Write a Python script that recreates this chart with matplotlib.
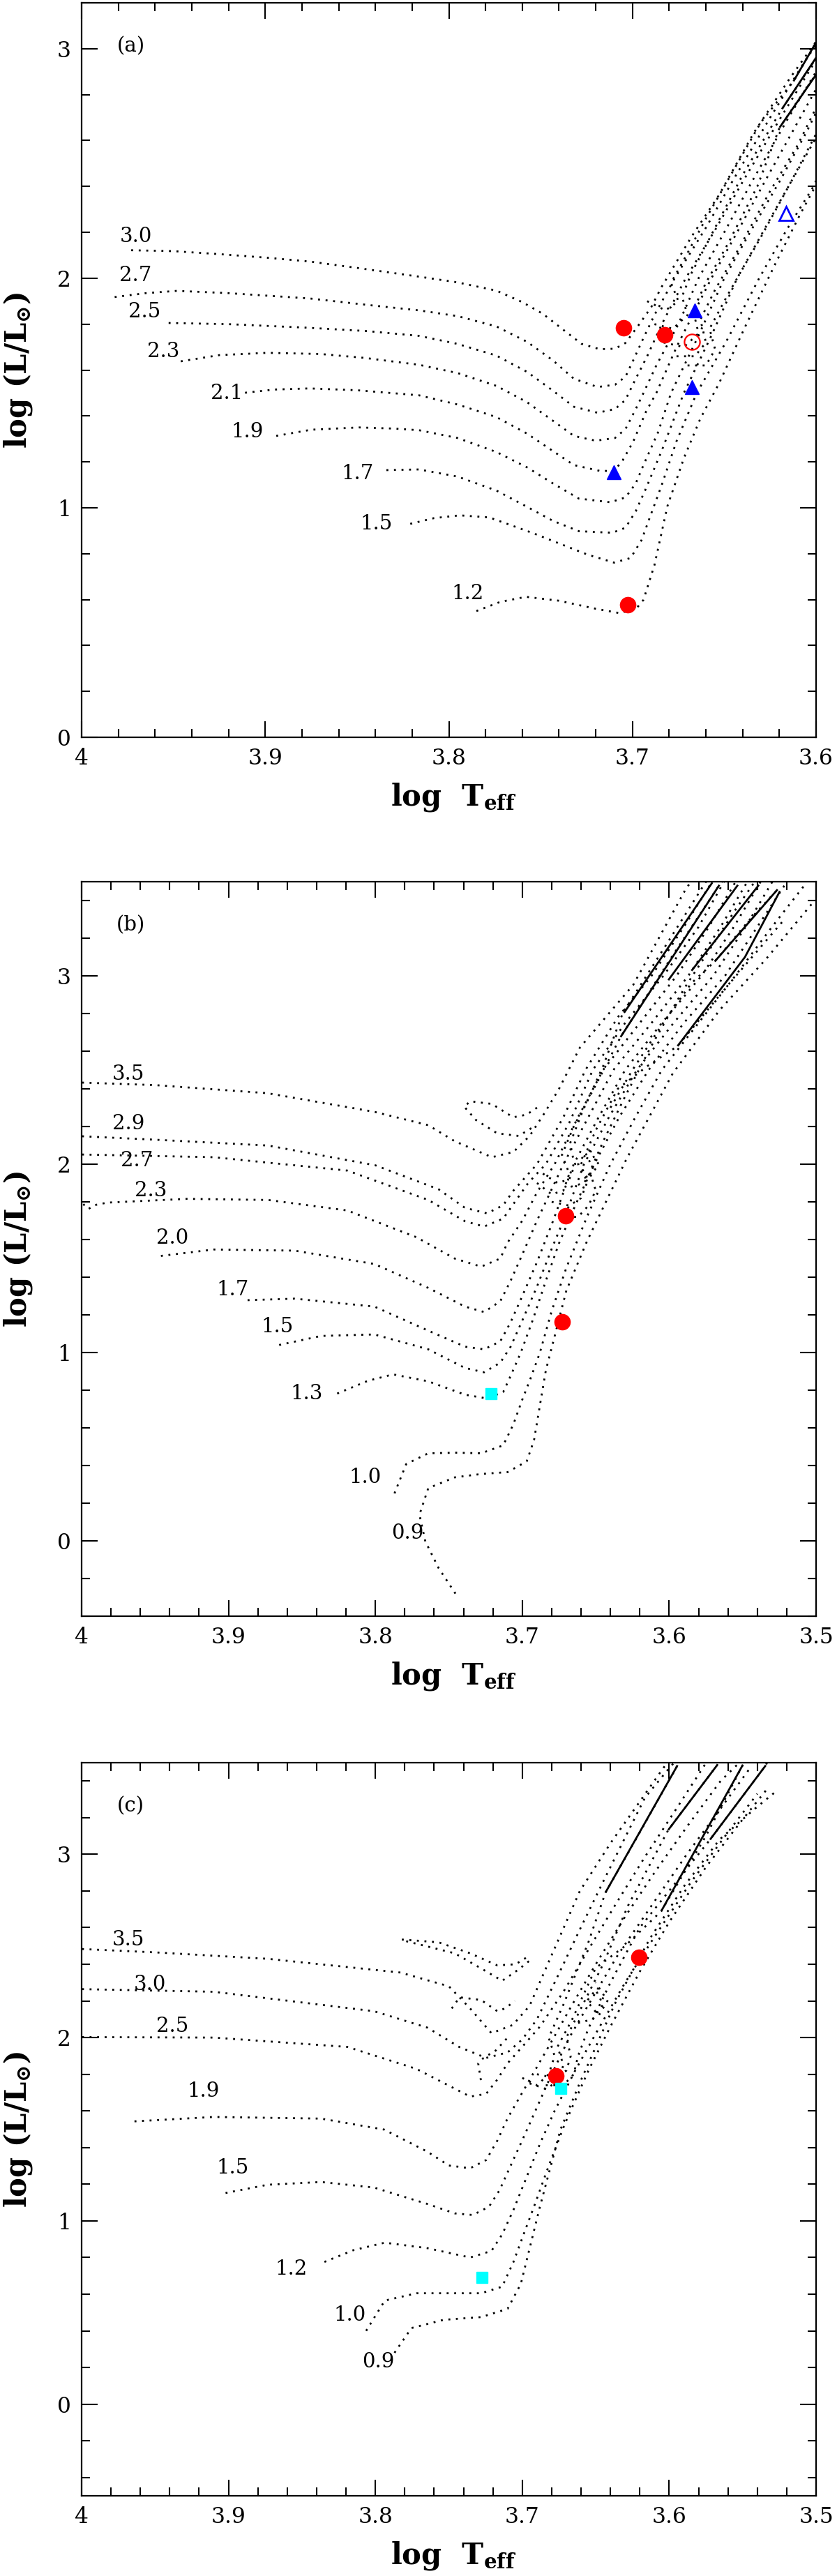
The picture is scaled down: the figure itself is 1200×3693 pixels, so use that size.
import matplotlib
matplotlib.use('Agg')
import matplotlib.pyplot as plt
from matplotlib.ticker import MultipleLocator, FuncFormatter

plt.rcParams['font.family'] = ['DejaVu Serif', 'DejaVu Sans']
plt.rcParams['mathtext.fontset'] = 'custom'
plt.rcParams['mathtext.rm'] = 'DejaVu Serif:bold'
plt.rcParams['mathtext.it'] = 'DejaVu Serif:bold'
plt.rcParams['mathtext.bf'] = 'DejaVu Serif:bold'

# ---------------- Panel (a) data: (log Teff, log L) ----------------
a30_T = [3.973, 3.950, 3.925, 3.900, 3.876, 3.850, 3.8163, 3.7953, 3.7741, 3.760, 3.7488, 3.7376, 3.7277, 3.7179, 3.7095, 3.7038, 3.6968, 3.6897, 3.6845, 3.668, 3.6529, 3.6338, 3.6137, 3.601, 3.594]
a30_L = [2.122, 2.118, 2.105, 2.090, 2.073, 2.045, 2.007, 1.982, 1.946, 1.896, 1.845, 1.775, 1.714, 1.691, 1.693, 1.718, 1.794, 1.875, 1.957, 2.179, 2.362, 2.635, 2.878, 3.020, 3.10]
a27_T = [3.982, 3.965, 3.948, 3.920, 3.876, 3.840, 3.8163, 3.7953, 3.7741, 3.7574, 3.7433, 3.7319, 3.719, 3.7095, 3.7038, 3.6996, 3.694, 3.688, 3.677, 3.660, 3.645, 3.625, 3.605, 3.594]
a27_L = [1.918, 1.935, 1.945, 1.935, 1.912, 1.880, 1.860, 1.835, 1.790, 1.723, 1.642, 1.562, 1.526, 1.536, 1.571, 1.642, 1.740, 1.840, 2.000, 2.220, 2.430, 2.700, 2.960, 3.080]
a25_T = [3.9526, 3.920, 3.876, 3.845, 3.8163, 3.7953, 3.7741, 3.7574, 3.7433, 3.7319, 3.719, 3.7095, 3.7038, 3.6989, 3.692, 3.684, 3.671, 3.655, 3.640, 3.620, 3.594]
a25_L = [1.805, 1.800, 1.784, 1.770, 1.749, 1.714, 1.663, 1.592, 1.510, 1.440, 1.414, 1.430, 1.470, 1.551, 1.660, 1.800, 2.000, 2.210, 2.420, 2.690, 3.030]
a23_T = [3.946, 3.925, 3.899, 3.870, 3.846, 3.8163, 3.7953, 3.7741, 3.7574, 3.7433, 3.7319, 3.720, 3.7095, 3.7038, 3.6982, 3.694, 3.687, 3.675, 3.664, 3.650, 3.635, 3.615, 3.594]
a23_L = [1.638, 1.665, 1.675, 1.670, 1.653, 1.623, 1.587, 1.531, 1.460, 1.379, 1.313, 1.292, 1.304, 1.343, 1.430, 1.500, 1.620, 1.800, 2.000, 2.200, 2.420, 2.700, 2.980]
a21_T = [3.911, 3.895, 3.876, 3.850, 3.8163, 3.7953, 3.7741, 3.7574, 3.7433, 3.7319, 3.718, 3.710, 3.7053, 3.6996, 3.6926, 3.687, 3.676, 3.657, 3.643, 3.628, 3.610, 3.594]
a21_L = [1.501, 1.515, 1.520, 1.512, 1.490, 1.450, 1.395, 1.323, 1.247, 1.186, 1.161, 1.160, 1.207, 1.288, 1.419, 1.500, 1.700, 2.000, 2.200, 2.420, 2.680, 2.910]
a19_T = [3.894, 3.875, 3.849, 3.830, 3.8163, 3.7953, 3.7741, 3.7574, 3.7433, 3.7292, 3.712, 3.7038, 3.6982, 3.694, 3.686, 3.679, 3.664, 3.650, 3.636, 3.620, 3.605, 3.594]
a19_L = [1.313, 1.340, 1.350, 1.345, 1.338, 1.304, 1.243, 1.176, 1.106, 1.040, 1.024, 1.045, 1.106, 1.186, 1.330, 1.500, 1.750, 2.000, 2.200, 2.420, 2.640, 2.820]
a17_T = [3.834, 3.8163, 3.7953, 3.7741, 3.7574, 3.7433, 3.7292, 3.711, 3.7038, 3.6982, 3.6926, 3.684, 3.672, 3.657, 3.643, 3.630, 3.615, 3.594]
a17_L = [1.164, 1.167, 1.136, 1.075, 1.004, 0.943, 0.898, 0.891, 0.913, 0.985, 1.085, 1.250, 1.500, 1.750, 2.000, 2.180, 2.400, 2.720]
a15_T = [3.821, 3.808, 3.794, 3.778, 3.754, 3.7245, 3.710, 3.701, 3.695, 3.690, 3.684, 3.676, 3.665, 3.649, 3.631, 3.6161, 3.602, 3.594]
a15_L = [0.930, 0.955, 0.967, 0.958, 0.889, 0.796, 0.761, 0.781, 0.860, 0.970, 1.100, 1.290, 1.500, 1.723, 2.000, 2.210, 2.392, 2.520]
a12_T = [3.785, 3.772, 3.758, 3.740, 3.720, 3.707, 3.698, 3.694, 3.688, 3.681, 3.672, 3.663, 3.6529, 3.6389, 3.626, 3.6212, 3.6085, 3.601, 3.594]
a12_L = [0.550, 0.590, 0.612, 0.595, 0.560, 0.541, 0.560, 0.599, 0.751, 1.006, 1.216, 1.389, 1.541, 1.784, 2.000, 2.079, 2.281, 2.392, 2.490]
a_masses = ['3.0', '2.7', '2.5', '2.3', '2.1', '1.9', '1.7', '1.5', '1.2']
a_label_T = [3.9705, 3.9705, 3.9658, 3.9555, 3.9208, 3.9099, 3.8496, 3.8395, 3.7897]
a_label_L = [2.182, 2.012, 1.854, 1.682, 1.499, 1.331, 1.149, 0.930, 0.627]
# clump / AGB loops
ea1_T = [3.688, 3.678, 3.670, 3.673, 3.668, 3.655, 3.640, 3.6186, 3.594]
ea1_L = [1.800, 1.780, 1.840, 1.920, 2.020, 2.220, 2.450, 2.737, 3.030]
ea2_T = [3.683, 3.672, 3.664, 3.667, 3.660, 3.648, 3.632, 3.6199, 3.594]
ea2_L = [1.720, 1.700, 1.760, 1.860, 1.980, 2.150, 2.400, 2.656, 2.960]
ea3_T = [3.692, 3.682, 3.675, 3.679, 3.672, 3.660, 3.645, 3.630, 3.6123, 3.594]
ea3_L = [1.900, 1.860, 1.900, 1.980, 2.080, 2.260, 2.470, 2.680, 2.858, 3.110]
ea4_T = [3.676, 3.666, 3.660, 3.663, 3.655, 3.642, 3.625, 3.610, 3.594]
ea4_L = [1.660, 1.660, 1.720, 1.820, 1.950, 2.130, 2.380, 2.580, 2.840]
ea5_T = [3.670, 3.660, 3.655, 3.658, 3.650, 3.636, 3.620, 3.603, 3.594]
ea5_L = [1.620, 1.620, 1.690, 1.780, 1.900, 2.100, 2.330, 2.570, 2.700]
sa_T = [[3.6123, 3.598], [3.6186, 3.598], [3.6199, 3.598]]
sa_L = [[2.858, 3.055], [2.737, 2.985], [2.656, 2.910]]
# markers
a_red_T = [3.705, 3.6826, 3.7027]
a_red_L = [1.784, 1.754, 0.578]
a_redopen_T = [3.6677]
a_redopen_L = [1.722]
a_blue_T = [3.6662, 3.6675, 3.710]
a_blue_L = [1.860, 1.526, 1.156]
a_blueopen_T = [3.6163]
a_blueopen_L = [2.281]

# ---------------- Panel (b) data ----------------
b35_T = [4.01, 3.95, 3.8735, 3.8007, 3.764, 3.746, 3.7207, 3.706, 3.695, 3.685, 3.675, 3.6608, 3.6244, 3.6054, 3.588, 3.578]
b35_L = [2.436, 2.420, 2.377, 2.278, 2.207, 2.122, 2.037, 2.065, 2.150, 2.270, 2.400, 2.619, 2.953, 3.224, 3.471, 3.560]
b29_T = [4.01, 3.95, 3.873, 3.800, 3.757, 3.739, 3.724, 3.713, 3.706, 3.698, 3.690, 3.672, 3.657, 3.635, 3.612, 3.590, 3.570]
b29_L = [2.152, 2.130, 2.099, 1.994, 1.867, 1.768, 1.739, 1.782, 1.860, 1.930, 2.000, 2.250, 2.500, 2.780, 3.000, 3.260, 3.510]
b27_T = [4.01, 3.91, 3.819, 3.764, 3.739, 3.726, 3.713, 3.705, 3.696, 3.684, 3.668, 3.652, 3.630, 3.604, 3.580, 3.562]
b27_L = [2.053, 2.037, 1.966, 1.810, 1.697, 1.669, 1.711, 1.800, 1.900, 2.000, 2.220, 2.500, 2.750, 3.000, 3.260, 3.510]
b23_T = [3.9989, 3.9953, 3.9916, 3.9825, 3.928, 3.873, 3.819, 3.772, 3.746, 3.728, 3.715, 3.710, 3.700, 3.690, 3.678, 3.662, 3.645, 3.620, 3.595, 3.573, 3.554]
b23_L = [1.788, 1.762, 1.782, 1.796, 1.816, 1.810, 1.754, 1.612, 1.499, 1.456, 1.499, 1.584, 1.700, 1.850, 2.000, 2.250, 2.500, 2.750, 3.000, 3.260, 3.510]
b20_T = [3.946, 3.91, 3.855, 3.8007, 3.764, 3.739, 3.726, 3.715, 3.708, 3.700, 3.690, 3.672, 3.655, 3.638, 3.612, 3.587, 3.565, 3.546]
b20_L = [1.513, 1.547, 1.541, 1.470, 1.343, 1.244, 1.215, 1.272, 1.380, 1.520, 1.700, 2.000, 2.250, 2.500, 2.750, 3.000, 3.260, 3.510]
b17_T = [3.887, 3.855, 3.8007, 3.764, 3.739, 3.726, 3.715, 3.708, 3.700, 3.690, 3.679, 3.665, 3.648, 3.630, 3.605, 3.578, 3.556, 3.537]
b17_L = [1.278, 1.286, 1.244, 1.116, 1.031, 1.017, 1.059, 1.160, 1.300, 1.480, 1.700, 2.000, 2.250, 2.500, 2.750, 3.000, 3.260, 3.510]
b15_T = [3.8655, 3.837, 3.8007, 3.764, 3.739, 3.726, 3.715, 3.708, 3.700, 3.690, 3.680, 3.671, 3.658, 3.641, 3.622, 3.597, 3.570, 3.548, 3.529]
b15_L = [1.040, 1.088, 1.096, 1.017, 0.918, 0.895, 0.946, 1.030, 1.170, 1.350, 1.550, 1.720, 2.000, 2.250, 2.500, 2.750, 3.000, 3.260, 3.510]
b13_T = [3.826, 3.805, 3.788, 3.764, 3.739, 3.724, 3.713, 3.708, 3.701, 3.693, 3.684, 3.675, 3.664, 3.651, 3.634, 3.614, 3.590, 3.562, 3.540, 3.519]
b13_L = [0.782, 0.850, 0.884, 0.847, 0.776, 0.756, 0.790, 0.875, 1.000, 1.170, 1.380, 1.580, 1.780, 2.000, 2.250, 2.500, 2.750, 3.000, 3.260, 3.510]
b10_T = [3.787, 3.779, 3.764, 3.745, 3.728, 3.713, 3.706, 3.700, 3.694, 3.688, 3.680, 3.670, 3.656, 3.640, 3.623, 3.605, 3.580, 3.555, 3.530, 3.508]
b10_L = [0.252, 0.408, 0.465, 0.468, 0.465, 0.507, 0.620, 0.750, 0.870, 1.000, 1.220, 1.450, 1.720, 2.000, 2.250, 2.500, 2.750, 3.000, 3.260, 3.480]
b09_T = [3.7455, 3.757, 3.766, 3.770, 3.764, 3.746, 3.728, 3.710, 3.697, 3.692, 3.684, 3.670, 3.656, 3.6291, 3.5975, 3.5658, 3.5341, 3.5025, 3.495]
b09_L = [-0.280, -0.144, -0.003, 0.139, 0.280, 0.337, 0.355, 0.365, 0.422, 0.535, 0.904, 1.329, 1.590, 2.027, 2.483, 2.817, 3.089, 3.386, 3.420]
b_masses = ['3.5', '2.9', '2.7', '2.3', '2.0', '1.7', '1.5', '1.3', '1.0', '0.9']
b_label_T = [3.968, 3.968, 3.9625, 3.9527, 3.938, 3.897, 3.867, 3.847, 3.807, 3.778]
b_label_L = [2.476, 2.215, 2.017, 1.858, 1.606, 1.334, 1.136, 0.782, 0.337, 0.040]
eb1_T = [3.690, 3.6971, 3.7062, 3.7207, 3.7353, 3.7396, 3.7316, 3.7171, 3.7025, 3.692]
eb1_L = [2.300, 2.263, 2.249, 2.320, 2.334, 2.306, 2.235, 2.164, 2.150, 2.200]
eb2_T = [3.690, 3.680, 3.672, 3.668, 3.673, 3.665, 3.650, 3.6331, 3.600, 3.5658, 3.558]
eb2_L = [1.900, 1.840, 1.860, 1.950, 2.050, 2.200, 2.420, 2.675, 3.080, 3.483, 3.560]
eb3_T = [3.686, 3.676, 3.668, 3.664, 3.668, 3.659, 3.645, 3.6315, 3.600, 3.5753, 3.568]
eb3_L = [1.950, 1.900, 1.920, 2.000, 2.100, 2.280, 2.520, 2.804, 3.190, 3.496, 3.560]
eb4_T = [3.680, 3.668, 3.660, 3.656, 3.660, 3.650, 3.635, 3.615, 3.5943, 3.560, 3.5231]
eb4_L = [1.800, 1.780, 1.820, 1.900, 2.000, 2.180, 2.400, 2.520, 2.627, 2.950, 3.286]
eb5_T = [3.675, 3.662, 3.655, 3.650, 3.654, 3.645, 3.630, 3.612, 3.590, 3.555, 3.540]
eb5_L = [1.720, 1.720, 1.780, 1.860, 1.960, 2.120, 2.360, 2.630, 2.930, 3.350, 3.520]
eb6_T = [3.667, 3.658, 3.652, 3.657, 3.662, 3.655, 3.648, 3.655]
eb6_L = [1.880, 1.900, 1.980, 2.060, 2.000, 1.920, 2.000, 2.080]
eb7_T = [3.640, 3.625, 3.605, 3.585, 3.569, 3.545, 3.526]
eb7_L = [2.300, 2.500, 2.740, 2.960, 3.076, 3.300, 3.460]
sb_T = [[3.6307, 3.5706], [3.6331, 3.5658], [3.5943, 3.5484, 3.5246], [3.6006, 3.5532], [3.5848, 3.5389], [3.569, 3.5262]]
sb_L = [[2.804, 3.496], [2.675, 3.483], [2.627, 3.100, 3.450], [2.977, 3.483], [3.027, 3.483], [3.076, 3.459]]
b_red_T = [3.6705, 3.6727]
b_red_L = [1.725, 1.164]
b_cyan_T = [3.7215]
b_cyan_L = [0.782]

# ---------------- Panel (c) data ----------------
c35_T = [4.01, 3.95, 3.8735, 3.783, 3.750, 3.7355, 3.721, 3.7064, 3.695, 3.680, 3.6608, 3.640, 3.6038, 3.595]
c35_L = [2.487, 2.465, 2.430, 2.355, 2.280, 2.159, 2.024, 2.069, 2.174, 2.450, 2.800, 3.060, 3.473, 3.560]
c30_T = [4.01, 3.91, 3.801, 3.7645, 3.743, 3.7246, 3.710, 3.700, 3.690, 3.675, 3.6608, 3.645, 3.6165, 3.600, 3.590]
c30_L = [2.266, 2.250, 2.144, 2.054, 1.949, 1.889, 1.919, 1.990, 2.100, 2.350, 2.590, 2.850, 3.309, 3.470, 3.560]
c25_T = [4.01, 3.91, 3.819, 3.772, 3.750, 3.7355, 3.7246, 3.7173, 3.710, 3.700, 3.688, 3.672, 3.655, 3.637, 3.617, 3.595, 3.574]
c25_L = [2.003, 2.000, 1.949, 1.829, 1.738, 1.678, 1.693, 1.768, 1.860, 1.950, 2.060, 2.250, 2.480, 2.720, 2.980, 3.250, 3.510]
c19_T = [3.964, 3.91, 3.837, 3.794, 3.7645, 3.750, 3.7355, 3.7246, 3.717, 3.710, 3.700, 3.690, 3.680, 3.666, 3.650, 3.630, 3.610, 3.588, 3.565, 3.551]
c19_L = [1.543, 1.567, 1.558, 1.498, 1.377, 1.302, 1.287, 1.332, 1.438, 1.560, 1.700, 1.840, 1.980, 2.180, 2.400, 2.660, 2.900, 3.150, 3.400, 3.510]
c15_T = [3.902, 3.8735, 3.837, 3.801, 3.7645, 3.746, 3.7337, 3.7227, 3.7155, 3.708, 3.700, 3.690, 3.680, 3.668, 3.652, 3.635, 3.612, 3.588, 3.565, 3.545]
c15_L = [1.152, 1.197, 1.212, 1.182, 1.092, 1.041, 1.032, 1.077, 1.167, 1.300, 1.440, 1.620, 1.800, 2.000, 2.220, 2.450, 2.720, 3.000, 3.250, 3.470]
c12_T = [3.8347, 3.815, 3.7936, 3.7645, 3.7355, 3.721, 3.7137, 3.706, 3.698, 3.688, 3.678, 3.664, 3.648, 3.630, 3.610, 3.585, 3.560, 3.540]
c12_L = [0.776, 0.840, 0.881, 0.851, 0.800, 0.836, 0.926, 1.060, 1.220, 1.420, 1.600, 1.820, 2.050, 2.300, 2.550, 2.850, 3.120, 3.330]
c10_T = [3.8063, 3.7936, 3.772, 3.728, 3.7137, 3.706, 3.698, 3.691, 3.682, 3.671, 3.655, 3.640, 3.620, 3.600, 3.575, 3.552, 3.533]
c10_L = [0.400, 0.565, 0.605, 0.605, 0.641, 0.776, 0.950, 1.100, 1.300, 1.530, 1.820, 2.060, 2.360, 2.630, 2.930, 3.170, 3.360]
c09_T = [3.787, 3.7755, 3.7536, 3.728, 3.710, 3.701, 3.688, 3.674, 3.6608, 3.637, 3.6133, 3.5896, 3.5658, 3.5421, 3.5278]
c09_L = [0.280, 0.415, 0.460, 0.475, 0.520, 0.656, 1.077, 1.498, 1.754, 2.184, 2.538, 2.829, 3.080, 3.246, 3.340]
c_masses = ['3.5', '3.0', '2.5', '1.9', '1.5', '1.2', '1.0', '0.9']
c_label_T = [3.968, 3.9535, 3.9382, 3.9172, 3.8972, 3.8572, 3.8172, 3.798]
c_label_L = [2.535, 2.289, 2.063, 1.708, 1.287, 0.737, 0.484, 0.229]
ec1_T = [3.782, 3.757, 3.7355, 3.717, 3.7046, 3.6955]
ec1_L = [2.535, 2.520, 2.460, 2.394, 2.400, 2.445]
ec2_T = [3.779, 3.746, 3.7264, 3.7137, 3.7028, 3.695]
ec2_L = [2.526, 2.460, 2.370, 2.310, 2.370, 2.420]
ec3_T = [3.748, 3.7427, 3.728, 3.717, 3.7118, 3.705]
ec3_L = [2.159, 2.220, 2.205, 2.144, 2.159, 2.200]
ec4_T = [3.7282, 3.730, 3.7264, 3.718, 3.710]
ec4_L = [1.768, 1.859, 1.889, 1.930, 2.000]
ec5_T = [3.700, 3.690, 3.682, 3.678, 3.682, 3.672, 3.655, 3.6434, 3.620, 3.5943, 3.590]
ec5_L = [1.780, 1.740, 1.800, 1.900, 2.000, 2.180, 2.520, 2.791, 3.120, 3.486, 3.560]
ec6_T = [3.695, 3.684, 3.676, 3.672, 3.676, 3.666, 3.650, 3.630, 3.6054, 3.575, 3.550, 3.545]
ec6_L = [1.750, 1.720, 1.760, 1.850, 1.950, 2.100, 2.380, 2.500, 2.690, 3.100, 3.486, 3.560]
ec7_T = [3.690, 3.678, 3.670, 3.667, 3.670, 3.660, 3.645, 3.628, 3.6007, 3.5674, 3.562]
ec7_L = [1.800, 1.780, 1.820, 1.900, 2.000, 2.160, 2.400, 2.720, 3.132, 3.486, 3.560]
ec8_T = [3.684, 3.672, 3.665, 3.662, 3.655, 3.640, 3.620, 3.5722, 3.5342, 3.530]
ec8_L = [1.740, 1.740, 1.800, 1.900, 2.050, 2.300, 2.600, 3.080, 3.486, 3.560]
ec9_T = [3.662, 3.652, 3.645, 3.650, 3.656, 3.648, 3.642, 3.650]
ec9_L = [2.080, 2.100, 2.180, 2.260, 2.200, 2.120, 2.200, 2.300]
sc_T = [[3.6434, 3.5943], [3.6054, 3.550], [3.5722, 3.5342], [3.6007, 3.5674]]
sc_L = [[2.791, 3.486], [2.690, 3.486], [3.080, 3.486], [3.132, 3.486]]
c_red_T = [3.6773, 3.6204]
c_red_L = [1.792, 2.440]
c_cyan_T = [3.6737, 3.7275]
c_cyan_L = [1.723, 0.692]

# ---------------- figure ----------------
W, H = 1200, 3693
fig = plt.figure(figsize=(W / 100, H / 100), dpi=100)

DOT = dict(color='black', lw=2.0, ls=(0, (1, 2.9)))
SOLID = dict(color='black', lw=2.0, ls='-', solid_capstyle='butt')


def make_axes(top_px, bottom_px):
    return fig.add_axes([117 / W, (H - bottom_px) / H, 1053 / W, (bottom_px - top_px) / H])


def style(ax, xlim, ylim, letter):
    ax.set_xlim(*xlim)
    ax.set_ylim(*ylim)
    ax.xaxis.set_major_locator(MultipleLocator(0.1))
    ax.xaxis.set_minor_locator(MultipleLocator(0.02))
    ax.yaxis.set_major_locator(MultipleLocator(1.0))
    ax.yaxis.set_minor_locator(MultipleLocator(0.2))
    fmt = FuncFormatter(lambda v, p: ('%g' % round(v, 3)))
    ax.xaxis.set_major_formatter(fmt)
    ax.yaxis.set_major_formatter(fmt)
    ax.tick_params(which='both', direction='in', top=True, right=True, width=1.5,
                   labelsize=22.5, pad=11)
    ax.tick_params(which='major', length=16.5)
    ax.tick_params(which='minor', length=8.5)
    for s in ax.spines.values():
        s.set_linewidth(1.6)
    ax.text(0.067, 0.941, letter, transform=ax.transAxes, ha='center', va='center', fontsize=21)
    ax.text(0.506, -0.082, r'log  T$_{\rm eff}$', transform=ax.transAxes, ha='center',
            va='center', fontsize=30, fontweight='bold')
    ax.text(-0.086, 0.5, r'log (L/L$_{\odot}$)', transform=ax.transAxes, ha='center',
            va='center', fontsize=30, fontweight='bold', rotation=90)


def tracks(ax, pairs):
    for T, L in pairs:
        ax.plot(T, L, **DOT)


def solids(ax, Ts, Ls):
    for T, L in zip(Ts, Ls):
        ax.plot(T, L, **SOLID)


def labels(ax, names, Ts, Ls):
    for n, t, l in zip(names, Ts, Ls):
        ax.text(t, l, n, ha='center', va='center', fontsize=21)


# Panel a
ax = make_axes(4, 1057)
tracks(ax, [(a30_T, a30_L), (a27_T, a27_L), (a25_T, a25_L), (a23_T, a23_L), (a21_T, a21_L),
            (a19_T, a19_L), (a17_T, a17_L), (a15_T, a15_L), (a12_T, a12_L),
            (ea1_T, ea1_L), (ea2_T, ea2_L), (ea3_T, ea3_L), (ea4_T, ea4_L), (ea5_T, ea5_L)])
solids(ax, sa_T, sa_L)
labels(ax, a_masses, a_label_T, a_label_L)
ax.plot(a_red_T, a_red_L, 'o', color='red', ms=16, ls='none')
ax.plot(a_redopen_T, a_redopen_L, 'o', mfc='none', mec='red', mew=1.6, ms=16, ls='none')
ax.plot(a_blue_T, a_blue_L, '^', color='blue', ms=15, ls='none')
ax.plot(a_blueopen_T, a_blueopen_L, '^', mfc='none', mec='blue', mew=2.0, ms=15, ls='none')
style(ax, (4.0, 3.6), (0.0, 3.2), '(a)')

# Panel b
ax = make_axes(1264, 2317)
tracks(ax, [(b35_T, b35_L), (b29_T, b29_L), (b27_T, b27_L), (b23_T, b23_L), (b20_T, b20_L),
            (b17_T, b17_L), (b15_T, b15_L), (b13_T, b13_L), (b10_T, b10_L), (b09_T, b09_L),
            (eb1_T, eb1_L), (eb2_T, eb2_L), (eb3_T, eb3_L), (eb4_T, eb4_L), (eb5_T, eb5_L),
            (eb6_T, eb6_L), (eb7_T, eb7_L)])
solids(ax, sb_T, sb_L)
labels(ax, b_masses, b_label_T, b_label_L)
ax.plot(b_red_T, b_red_L, 'o', color='red', ms=16, ls='none')
ax.plot(b_cyan_T, b_cyan_L, 's', color='#00ffff', ms=12, ls='none')
style(ax, (4.0, 3.5), (-0.4, 3.5), '(b)')

# Panel c
ax = make_axes(2527, 3578)
tracks(ax, [(c35_T, c35_L), (c30_T, c30_L), (c25_T, c25_L), (c19_T, c19_L), (c15_T, c15_L),
            (c12_T, c12_L), (c10_T, c10_L), (c09_T, c09_L),
            (ec1_T, ec1_L), (ec2_T, ec2_L), (ec3_T, ec3_L), (ec4_T, ec4_L), (ec5_T, ec5_L),
            (ec6_T, ec6_L), (ec7_T, ec7_L), (ec8_T, ec8_L), (ec9_T, ec9_L)])
solids(ax, sc_T, sc_L)
labels(ax, c_masses, c_label_T, c_label_L)
ax.plot(c_red_T, c_red_L, 'o', color='red', ms=16, ls='none')
ax.plot(c_cyan_T, c_cyan_L, 's', color='#00ffff', ms=12, ls='none')
style(ax, (4.0, 3.5), (-0.5, 3.5), '(c)')

fig.savefig('out.png', dpi=100)
